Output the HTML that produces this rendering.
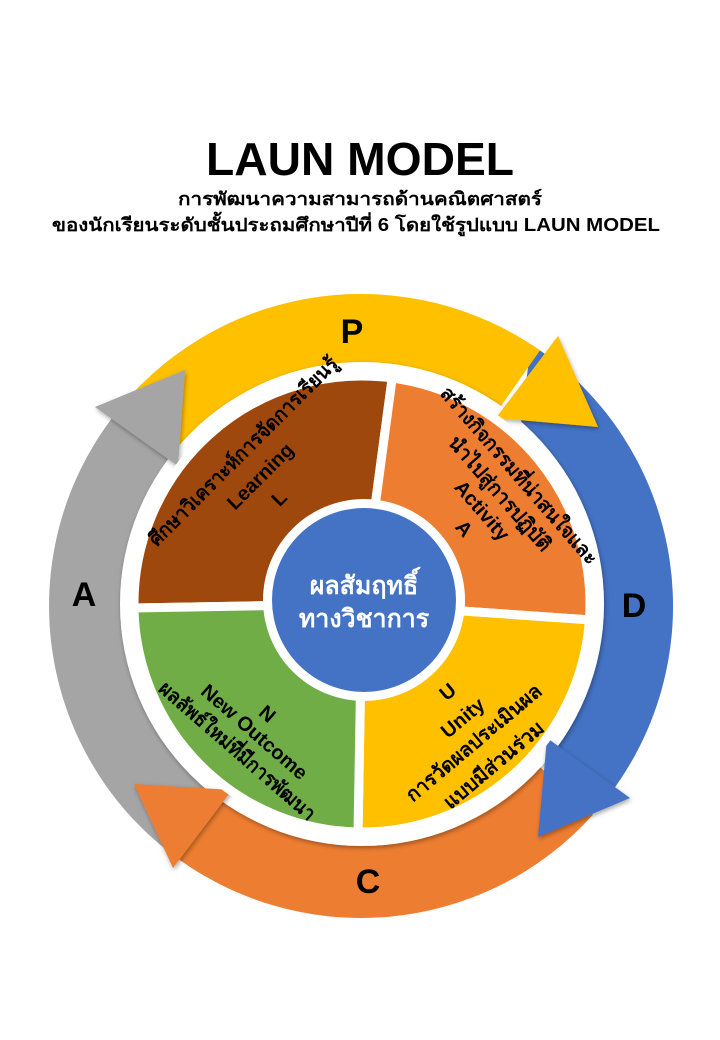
<!DOCTYPE html>
<html><head><meta charset="utf-8">
<style>
html,body{margin:0;padding:0;background:#fff;}
svg{display:block;}
text{font-family:"Liberation Sans","Noto Sans CJK SC",sans-serif;}
</style></head>
<body>
<svg width="720" height="1040" viewBox="0 0 720 1040" xmlns="http://www.w3.org/2000/svg">
<defs>
<filter id="sh" x="-20%" y="-20%" width="140%" height="140%"><feDropShadow dx="1" dy="2" stdDeviation="2.5" flood-color="#000" flood-opacity="0.35"/></filter>
</defs>
<rect width="720" height="1040" fill="#fff"/>
<text x="360" y="175" font-size="46" font-weight="bold" text-anchor="middle" textLength="308" lengthAdjust="spacingAndGlyphs">LAUN MODEL</text>
<text x="360" y="205" font-size="18" font-weight="bold" text-anchor="middle" textLength="364" lengthAdjust="spacingAndGlyphs">การพัฒนาความสามารถด้านคณิตศาสตร์</text>
<text x="356" y="231" font-size="18" font-weight="bold" text-anchor="middle" textLength="608" lengthAdjust="spacingAndGlyphs">ของนักเรียนระดับชั้นประถมศึกษาปีที่  6 โดยใช้รูปแบบ  LAUN MODEL</text>

<!-- ring bodies -->
<path d="M144.3,381.6 A312,312 0 0 0 205,876.2 L242,812.1 A238,238 0 0 1 195.7,434.8 Z" fill="#A5A5A5"/>
<path d="M592.9,814.8 A312,312 0 0 1 169,851.9 L214.5,793.5 A238,238 0 0 0 537.9,765.2 Z" fill="#ED7D31"/>
<path d="M530.9,344.3 A312,312 0 0 1 600,806.6 L543.3,759 A238,238 0 0 0 520.2,429.1 Z" fill="#4472C4"/>
<path d="M122,405.4 A312,312 0 0 1 540,350.4 L497.5,411 A238,238 0 0 0 178.7,453 Z" fill="#FFC000"/>

<!-- letters -->
<text x="352" y="343" font-size="34" font-weight="bold" text-anchor="middle">P</text>
<text x="634" y="617" font-size="34" font-weight="bold" text-anchor="middle">D</text>
<text x="368" y="893" font-size="34" font-weight="bold" text-anchor="middle">C</text>
<text x="84" y="606" font-size="34" font-weight="bold" text-anchor="middle">A</text>

<!-- pie -->
<circle cx="362" cy="604" r="242" fill="#fff" filter="url(#sh)"/>
<!-- heads -->
<polygon points="547,738 630,798 538,837" fill="#4472C4" filter="url(#sh)"/>
<polygon points="134,784 232,790 173,868" fill="#ED7D31" filter="url(#sh)"/>
<polygon points="95,407 185,370 178,466" fill="#A5A5A5" filter="url(#sh)"/>
<polygon points="558,336 598,427 496,418" fill="#FFC000" filter="url(#sh)"/>
<g stroke="#fff" stroke-width="9" stroke-linejoin="round">
<path d="M362,604 L134,608 A228,228 0 0 1 392.2,378 Z" fill="#9E480E"/>
<path d="M362,604 L392.2,378 A228,228 0 0 1 589.4,619.9 Z" fill="#ED7D31"/>
<path d="M362,604 L589.4,619.9 A228,228 0 0 1 358,832 Z" fill="#FFC000"/>
<path d="M362,604 L358,832 A228,228 0 0 1 134,608 Z" fill="#70AD47"/>
</g>
<circle cx="364" cy="600" r="101" fill="#fff"/>
<circle cx="364" cy="600" r="92" fill="#4472C4"/>
<text x="364" y="594" font-size="25" font-weight="bold" fill="#fff" text-anchor="middle">ผลสัมฤทธิ์</text>
<text x="364" y="627" font-size="25" font-weight="bold" fill="#fff" text-anchor="middle">ทางวิชาการ</text>

<g font-size="20" font-weight="bold" text-anchor="middle" fill="#000">
<text transform="translate(248,456) rotate(-45)" textLength="258" lengthAdjust="spacingAndGlyphs">ศึกษาวิเคราะห์การจัดการเรียนรู้</text>
<text transform="translate(265,481) rotate(-45)">Learning</text>
<text transform="translate(284,503) rotate(-45)">L</text>

<text transform="translate(514,480) rotate(49)" textLength="228" lengthAdjust="spacingAndGlyphs">สร้างกิจกรรมที่น่าสนใจและ</text>
<text transform="translate(495,498) rotate(49)" textLength="145" lengthAdjust="spacingAndGlyphs">นำไปสู่การปฏิบัติ</text>
<text transform="translate(477,515) rotate(49)">Activity</text>
<text transform="translate(459,533) rotate(49)">A</text>

<text transform="translate(452,697) rotate(-40)">U</text>
<text transform="translate(467,723) rotate(-40)">Unity</text>
<text transform="translate(478,748) rotate(-40)" textLength="170" lengthAdjust="spacingAndGlyphs">การวัดผลประเมินผล</text>
<text transform="translate(498,770) rotate(-40)" textLength="124" lengthAdjust="spacingAndGlyphs">แบบมีส่วนร่วม</text>

<text transform="translate(263,719) rotate(41)">N</text>
<text transform="translate(250,737) rotate(41)">New Outcome</text>
<text transform="translate(233,756) rotate(41)" textLength="200" lengthAdjust="spacingAndGlyphs">ผลลัพธ์ใหม่ที่มีการพัฒนา</text>
</g>
</svg>
</body></html>
